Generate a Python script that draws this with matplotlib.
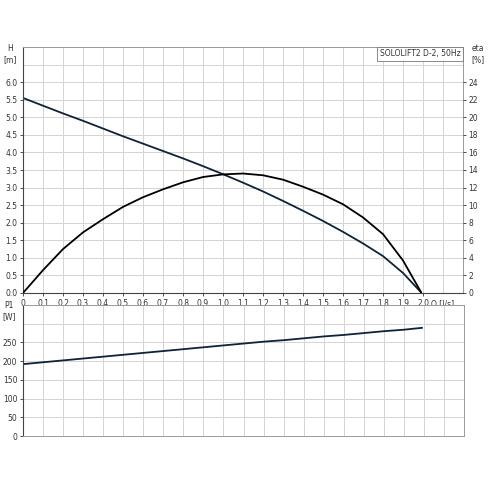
import numpy as np
import matplotlib
matplotlib.use("Agg")
import matplotlib.pyplot as plt

# flow [l/s]
q = [0.0, 0.1, 0.2, 0.3, 0.4, 0.5, 0.6, 0.7, 0.8, 0.9, 1.0,
     1.1, 1.2, 1.3, 1.4, 1.5, 1.6, 1.7, 1.8, 1.9, 1.99]
# head [m]
head = [5.55, 5.33, 5.11, 4.90, 4.68, 4.46, 4.25, 4.04, 3.83, 3.61, 3.38,
        3.14, 2.89, 2.62, 2.34, 2.05, 1.74, 1.41, 1.05, 0.57, 0.02]
# efficiency [%]
eta = [0.0, 2.6, 5.0, 6.9, 8.4, 9.8, 10.9, 11.8, 12.6, 13.2, 13.5,
       13.6, 13.4, 12.9, 12.1, 11.2, 10.1, 8.6, 6.7, 3.7, 0.1]
# power input [W]
p1 = [192, 197, 202, 207, 212, 217, 222, 227, 232, 237, 242,
      247, 252, 256, 261, 266, 270, 275, 280, 284, 289]

q_ticks = [round(0.1 * i, 1) for i in range(21)]
q_labels = ["0"] + [f"{v:.1f}" for v in q_ticks[1:]]
h_ticks = [0.5 * i for i in range(13)]
eta_ticks = list(range(0, 25, 2))
p_ticks = [0, 50, 100, 150, 200, 250]

grid_col = "#d4d4d4"
frame_col = "#9a9a9a"
txt_col = "#333333"
curve_col = "#0e2238"
fs = 5.5

fig = plt.figure(figsize=(4.88, 4.88), dpi=100)

# top chart: head + efficiency
ax = fig.add_axes([23 / 488, 195 / 488, 440 / 488, 246 / 488])
ax.set_xlim(0, 2.19)
ax.set_ylim(0, 7)
ax.set_xticks(q_ticks)
ax.set_xticklabels(q_labels)
ax.set_yticks(h_ticks)
ax.set_yticklabels([f"{v:.1f}" for v in h_ticks])
ax.set_xticks([0.1 * i for i in range(23)], minor=True)
ax.set_yticks([0.5 * i for i in range(15)], minor=True)
ax.grid(True, which="both", color=grid_col, lw=0.7)
ax.set_axisbelow(True)
ax.tick_params(which="minor", length=0)
ax.tick_params(labelsize=fs, colors=txt_col, length=2.5, width=0.6, pad=1.5)
for s in ["top", "right"]:
    ax.spines[s].set_color(frame_col)
    ax.spines[s].set_linewidth(0.7)
for s in ["left", "bottom"]:
    ax.spines[s].set_color("#444444")
    ax.spines[s].set_linewidth(0.8)

ax.plot(q, head, color=curve_col, lw=1.3)

ax2 = ax.twinx()
ax2.set_ylim(0, 28)
ax2.set_yticks(eta_ticks)
ax2.tick_params(labelsize=fs, colors=txt_col, length=2.5, width=0.6, pad=1.5)
for s in ["top", "right", "left", "bottom"]:
    ax2.spines[s].set_visible(False)
ax2.plot(q, eta, color="black", lw=1.3)

fig.text(10 / 488, 1 - 44 / 488, "H\n[m]", ha="center", va="top",
         fontsize=fs, color=txt_col, linespacing=1.3)
fig.text(478 / 488, 1 - 44 / 488, "eta\n[%]", ha="center", va="top",
         fontsize=fs, color=txt_col, linespacing=1.3)
ax.text(2.1, -0.2, "Q [l/s]", ha="center", va="top", fontsize=fs, color=txt_col)
ax.text(0.995, 0.99, "SOLOLIFT2 D-2, 50Hz", transform=ax.transAxes, ha="right", va="top",
        fontsize=fs, color=txt_col,
        bbox=dict(boxstyle="square,pad=0.35", fc="white", ec="#777777", lw=0.6))

# bottom chart: power input
bx = fig.add_axes([23 / 488, 52 / 488, 441 / 488, 131 / 488])
bx.set_xlim(0, 2.19)
bx.set_ylim(0, 350)
bx.set_xticks([0.1 * i for i in range(23)])
bx.set_xticklabels([])
bx.set_yticks(p_ticks)
bx.set_yticks(list(range(0, 351, 50)), minor=True)
bx.grid(True, which="major", axis="x", color=grid_col, lw=0.7)
bx.grid(True, which="both", axis="y", color=grid_col, lw=0.7)
bx.set_axisbelow(True)
bx.tick_params(axis="x", length=0)
bx.tick_params(axis="y", which="minor", length=0)
bx.tick_params(axis="y", labelsize=fs, colors=txt_col, length=2.5, width=0.6, pad=1.5)
for s in ["top", "right", "bottom"]:
    bx.spines[s].set_color(frame_col)
    bx.spines[s].set_linewidth(0.7)
bx.spines["left"].set_color("#444444")
bx.spines["left"].set_linewidth(0.8)
bx.plot(q, p1, color=curve_col, lw=1.3)
fig.text(9 / 488, 1 - 301 / 488, "P1\n[W]", ha="center", va="top",
         fontsize=fs, color=txt_col, linespacing=1.3)

fig.savefig("out.png", dpi=100, facecolor="white")
